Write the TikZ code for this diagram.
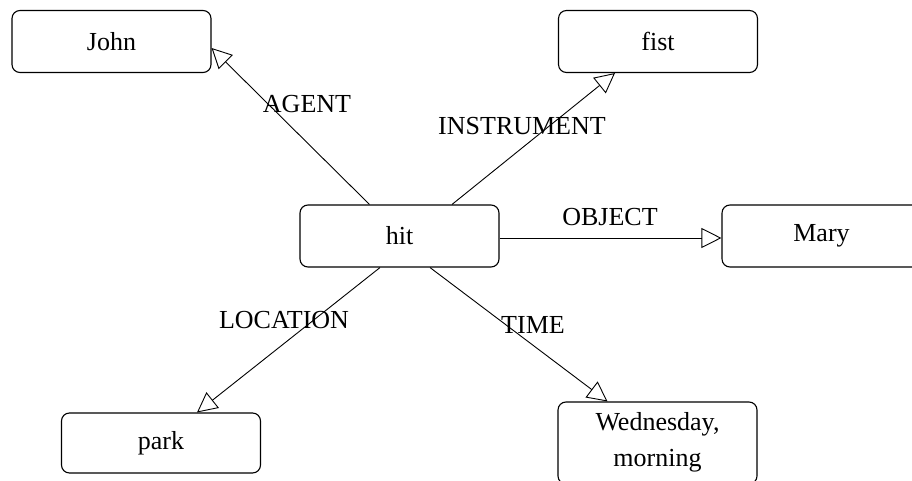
\documentclass[tikz,border=0pt]{standalone}
\usepackage{fontspec}
\setmainfont{Liberation Serif}
\usetikzlibrary{arrows.meta,calc}
\begin{document}
\begin{tikzpicture}[x=1pt,y=-1pt,
  box/.style={draw, rounded corners=8pt, line width=1.1pt,
    minimum width=199pt, minimum height=62pt, inner sep=0pt},
  word/.style={font=\fontsize{26}{30}\selectfont, inner sep=0pt, anchor=base},
  rel/.style={line width=0.9pt,
    -{Triangle[open, length=20pt, width=20pt, line width=0.9pt]}},
]
\useasboundingbox (0,0) rectangle (912,481);

% concept boxes
\node[box, label={[word]center:John}] (john) at (111.5,41.5) {};
\node[box, label={[word]center:fist}] (fist) at (658,41.5) {};
\node[box, label={[word]center:hit}]  (hit)  at (399.5,236) {};
\node[box, label={[word]center:Mary}] (mary) at (821.5,236) {};
\node[box, minimum height=60pt, label={[word]center:park}] (park) at (161,443) {};
\node[box, minimum height=82pt,
  label={[word, font=\fontsize{26}{36}\selectfont, anchor=north, align=center,
    yshift=-11pt]north:{Wednesday,\\morning}}]
  (wed) at (657.5,443) {};

% relations from the verb
\draw[rel] ($(hit.north)+(-30,0)$) -- ($(john.east)+(0,6.5)$);
\draw[rel] ($(hit.north)+(52.5,0)$) -- ($(fist.south)+(-43,0)$);
\draw[rel] ($(hit.east)+(0,2)$) -- ($(mary.west)+(0,2)$);
\draw[rel] ($(hit.south)+(-19.5,0)$) -- ($(park.north)+(36,0)$);
\draw[rel] ($(hit.south)+(30.5,0)$) -- ($(wed.north)+(-50,0)$);

% relation names
\node[word] (agent) at (307,113) {AGENT};
\node[word] (instr) at (522,135) {INSTRUMENT};
\node[word] (object) at (610,225) {OBJECT};
\node[word] (location) at (284,328) {LOCATION};
\node[word] (time) at (533,333) {TIME};
\end{tikzpicture}
\end{document}
